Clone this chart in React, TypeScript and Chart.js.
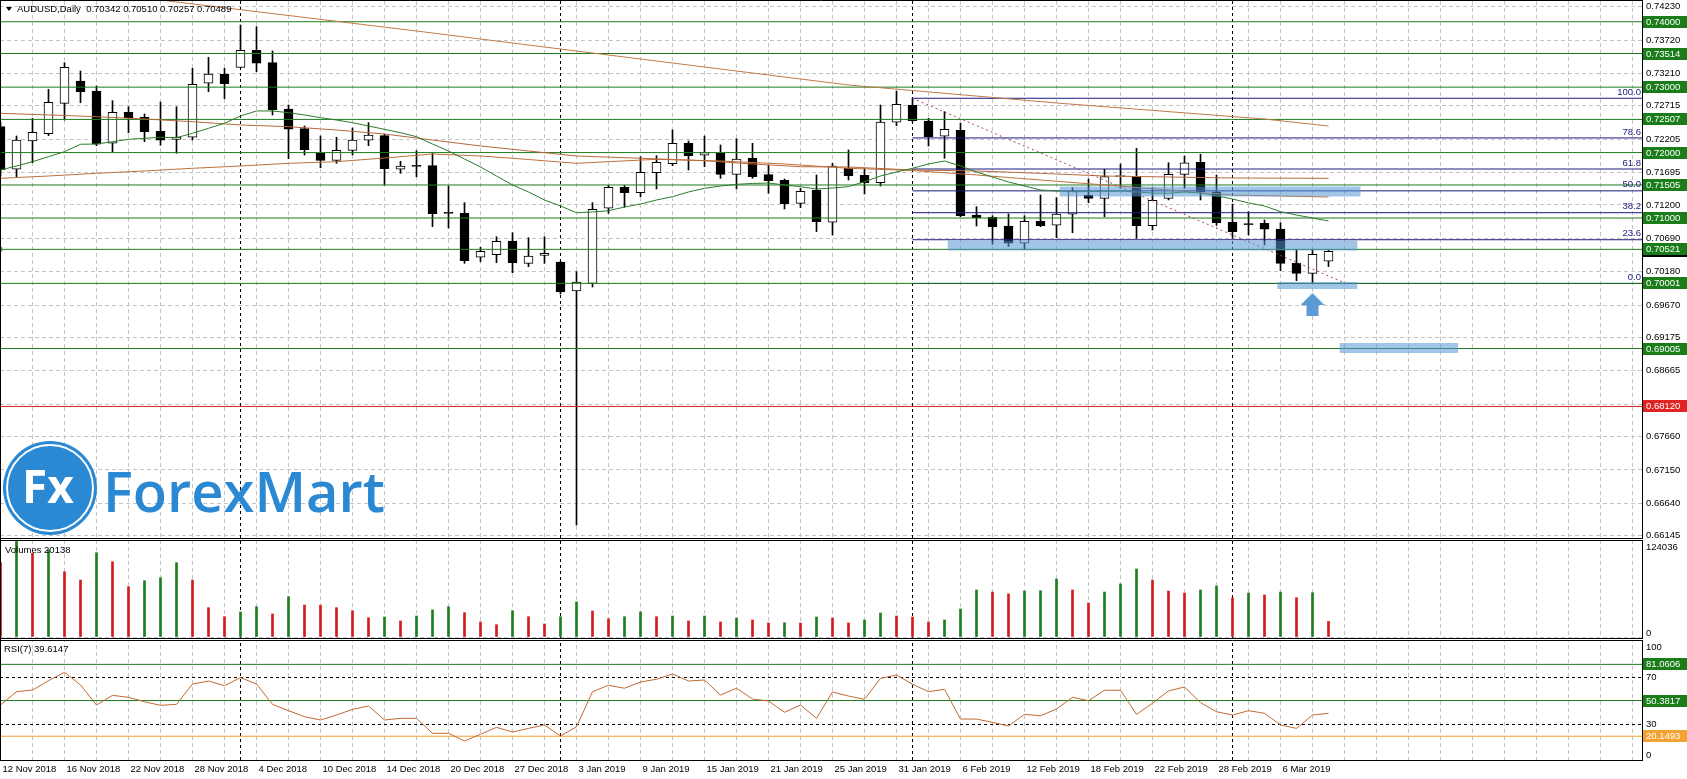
import React, { useEffect, useRef } from 'react';
import { Chart, registerables } from 'chart.js';
import type { Plugin } from 'chart.js';

Chart.register(...registerables);

// ---- data ----
const dates = ('12 Nov 2018,13 Nov 2018,14 Nov 2018,15 Nov 2018,16 Nov 2018,19 Nov 2018,20 Nov 2018,21 Nov 2018,22 Nov 2018,23 Nov 2018,'
  + '26 Nov 2018,27 Nov 2018,28 Nov 2018,29 Nov 2018,30 Nov 2018,3 Dec 2018,4 Dec 2018,5 Dec 2018,6 Dec 2018,7 Dec 2018,'
  + '10 Dec 2018,11 Dec 2018,12 Dec 2018,13 Dec 2018,14 Dec 2018,17 Dec 2018,18 Dec 2018,19 Dec 2018,20 Dec 2018,21 Dec 2018,'
  + '24 Dec 2018,26 Dec 2018,27 Dec 2018,28 Dec 2018,31 Dec 2018,2 Jan 2019,3 Jan 2019,4 Jan 2019,7 Jan 2019,8 Jan 2019,'
  + '9 Jan 2019,10 Jan 2019,11 Jan 2019,14 Jan 2019,15 Jan 2019,16 Jan 2019,17 Jan 2019,18 Jan 2019,21 Jan 2019,22 Jan 2019,'
  + '23 Jan 2019,24 Jan 2019,25 Jan 2019,28 Jan 2019,29 Jan 2019,30 Jan 2019,31 Jan 2019,1 Feb 2019,4 Feb 2019,5 Feb 2019,'
  + '6 Feb 2019,7 Feb 2019,8 Feb 2019,11 Feb 2019,12 Feb 2019,13 Feb 2019,14 Feb 2019,15 Feb 2019,18 Feb 2019,19 Feb 2019,'
  + '20 Feb 2019,21 Feb 2019,22 Feb 2019,25 Feb 2019,26 Feb 2019,27 Feb 2019,28 Feb 2019,1 Mar 2019,4 Mar 2019,5 Mar 2019,'
  + '6 Mar 2019,7 Mar 2019,8 Mar 2019,11 Mar 2019').split(',');

const opens = [
  0.72396, 0.71745, 0.72177, 0.72289, 0.72753, 0.73094, 0.72941, 0.72142, 0.72616, 0.72539,
  0.72325, 0.72203, 0.72234, 0.73059, 0.73201, 0.73303, 0.73563, 0.73374, 0.72666, 0.72365,
  0.71994, 0.71882, 0.72035, 0.72188, 0.72258, 0.71745, 0.71800, 0.71800, 0.71080, 0.71072,
  0.70400, 0.70439, 0.70649, 0.70308, 0.70430, 0.70328, 0.69884, 0.70000, 0.71149, 0.71470,
  0.71387, 0.71693, 0.71830, 0.72142, 0.71959, 0.71994, 0.71668, 0.71913, 0.71662, 0.71576,
  0.71225, 0.71428, 0.70935, 0.71765, 0.71653, 0.71540, 0.72463, 0.72723, 0.72483, 0.72249,
  0.72341, 0.71046, 0.71011, 0.70878, 0.70614, 0.70950, 0.70889, 0.71057, 0.71347, 0.71301,
  0.71632, 0.71632, 0.70883, 0.71301, 0.71668, 0.71852, 0.71402, 0.70935, 0.70910, 0.70919,
  0.70832, 0.70308, 0.70155, 0.70342,
];
const highs = [
  0.72467, 0.72254, 0.72524, 0.72967, 0.73374, 0.73247, 0.73018, 0.72793, 0.72701, 0.72590,
  0.72773, 0.72701, 0.73288, 0.73456, 0.73288, 0.73950, 0.73924, 0.73553, 0.72727, 0.72406,
  0.72254, 0.72234, 0.72376, 0.72457, 0.72284, 0.71867, 0.72029, 0.71989, 0.71489, 0.71234,
  0.70552, 0.70714, 0.70776, 0.70699, 0.70714, 0.70340, 0.70179, 0.71234, 0.71500, 0.71500,
  0.71937, 0.71953, 0.72345, 0.72177, 0.72254, 0.72116, 0.72212, 0.72142, 0.71806, 0.71596,
  0.71454, 0.71658, 0.71836, 0.72040, 0.71760, 0.72727, 0.72941, 0.72830, 0.72524, 0.72625,
  0.72448, 0.71173, 0.71036, 0.71062, 0.71036, 0.71352, 0.71311, 0.71464, 0.71596, 0.71745,
  0.71826, 0.72066, 0.71464, 0.71845, 0.71948, 0.71974, 0.71658, 0.71214, 0.71097, 0.70970,
  0.70928, 0.70522, 0.70522, 0.70510,
];
const lows = [
  0.71642, 0.71631, 0.71845, 0.72260, 0.72498, 0.72762, 0.72105, 0.72014, 0.72304, 0.72166,
  0.72111, 0.71989, 0.72192, 0.72931, 0.72824, 0.73297, 0.73236, 0.72574, 0.71907, 0.71963,
  0.71769, 0.71836, 0.71963, 0.72105, 0.71505, 0.71683, 0.71631, 0.70868, 0.70847, 0.70308,
  0.70332, 0.70317, 0.70164, 0.70256, 0.70308, 0.69839, 0.66308, 0.69946, 0.71072, 0.71164,
  0.71326, 0.71444, 0.71800, 0.71734, 0.71784, 0.71607, 0.71444, 0.71607, 0.71378, 0.71138,
  0.71158, 0.70793, 0.70741, 0.71581, 0.71367, 0.71489, 0.72411, 0.72467, 0.72101, 0.71913,
  0.71020, 0.70878, 0.70598, 0.70565, 0.70531, 0.70867, 0.70699, 0.70776, 0.71234, 0.71020,
  0.71454, 0.70690, 0.70817, 0.71276, 0.71454, 0.71276, 0.70888, 0.70690, 0.70741, 0.70588,
  0.70195, 0.70042, 0.70003, 0.70257,
];
const closes = [
  0.71734, 0.72192, 0.72310, 0.72769, 0.73303, 0.72931, 0.72127, 0.72616, 0.72533, 0.72319,
  0.72188, 0.72238, 0.73044, 0.73201, 0.73053, 0.73563, 0.73365, 0.72655, 0.72356, 0.72044,
  0.71882, 0.72035, 0.72192, 0.72269, 0.71754, 0.71795, 0.71790, 0.71066, 0.71070, 0.70348,
  0.70491, 0.70644, 0.70317, 0.70420, 0.70461, 0.69869, 0.70022, 0.71133, 0.71470, 0.71387,
  0.71699, 0.71852, 0.72142, 0.71953, 0.71999, 0.71668, 0.71902, 0.71631, 0.71570, 0.71219,
  0.71408, 0.70944, 0.71795, 0.71647, 0.71540, 0.72467, 0.72738, 0.72487, 0.72243, 0.72356,
  0.71036, 0.71001, 0.70867, 0.70614, 0.70950, 0.70883, 0.71062, 0.71413, 0.71301, 0.71632,
  0.71640, 0.70883, 0.71271, 0.71668, 0.71845, 0.71402, 0.70928, 0.70791, 0.70900, 0.70828,
  0.70308, 0.70155, 0.70446, 0.70489,
];

const volumes = [
  96000, 124036, 108100, 112400, 84400, 73600, 108900, 97300, 65000, 72700,
  76600, 96000, 73600, 37900, 26200, 32300, 39100, 29700, 52100, 41300,
  41000, 37900, 34000, 24900, 25800, 20700, 27100, 34900, 39100, 31400,
  19400, 15900, 34000, 26200, 16800, 26200, 45200, 33600, 23600, 26200,
  32300, 26200, 27100, 20700, 27100, 19400, 24500, 22000, 18100, 18400,
  18000, 25800, 24500, 18100, 22000, 31000, 27100, 25800, 19400, 22000,
  36200, 60700, 58100, 55600, 59400, 59800, 74900, 60700, 43900, 58100,
  68500, 87900, 73600, 59400, 56800, 60700, 65900, 50400, 56800, 54300,
  58100, 50800, 57200, 20138,
];
// g = volume up, r = volume down
const volumeDir = ('rgrgrrgrrg' + 'ggrrrggrgr' + 'rrrrgrgggr' + 'rrgrrggrrg' + 'grgrgrgrrg'
  + 'rgrrggrrrg' + 'ggrrgggrrg' + 'ggrrrggrgr' + 'grgr').split('');

const rsi = [
  46.6, 57.9, 59.3, 67.2, 74.3, 63.6, 46.6, 54.8, 53.1, 49.4,
  46.3, 47.2, 64.4, 66.9, 63.0, 69.8, 64.4, 47.2, 41.8, 36.7,
  33.9, 38.1, 42.9, 45.8, 33.9, 35.3, 35.3, 22.6, 22.6, 16.1,
  21.8, 27.7, 23.7, 26.8, 29.7, 20.3, 28.2, 57.9, 63.3, 60.8,
  66.1, 68.4, 72.9, 66.9, 67.8, 55.1, 60.8, 51.7, 50.0, 40.4,
  46.6, 35.3, 57.6, 54.2, 51.4, 69.2, 72.0, 64.2, 57.9, 59.9,
  34.7, 34.7, 31.9, 28.8, 38.7, 37.5, 43.2, 53.1, 50.3, 59.1,
  59.1, 38.7, 48.1, 58.5, 61.9, 48.6, 40.9, 38.1, 41.8, 39.6,
  29.7, 26.8, 38.1, 39.6147,
];

// moving averages
const maFast = [
  0.71734, 0.71795, 0.71861, 0.71937, 0.72014, 0.72127, 0.72131, 0.72166, 0.72203, 0.72218,
  0.72234, 0.72228, 0.72295, 0.72371, 0.72448, 0.72559, 0.72636, 0.72636, 0.72610, 0.72575,
  0.72533, 0.72498, 0.72457, 0.72406, 0.72356, 0.72304, 0.72243, 0.72131, 0.72024, 0.71902,
  0.71780, 0.71642, 0.71505, 0.71398, 0.71275, 0.71184, 0.71081, 0.71092, 0.71112, 0.71168,
  0.71214, 0.71275, 0.71326, 0.71398, 0.71454, 0.71489, 0.71515, 0.71528, 0.71535, 0.71505,
  0.71479, 0.71444, 0.71459, 0.71479, 0.71555, 0.71642, 0.71703, 0.71760, 0.71826, 0.71871,
  0.71795, 0.71703, 0.71627, 0.71551, 0.71489, 0.71428, 0.71413, 0.71402, 0.71405, 0.71410,
  0.71413, 0.71398, 0.71382, 0.71378, 0.71398, 0.71382, 0.71337, 0.71291, 0.71230, 0.71184,
  0.71097, 0.71046, 0.71000, 0.70955,
];
const maMidBars = [0, 3, 6, 9, 12, 15, 18, 21, 24, 27, 30, 33, 36, 40, 44, 47, 50, 53, 57, 61, 65, 69, 73, 77, 83];
const maMidVals = [0.72600, 0.72575, 0.72549, 0.72513, 0.72472, 0.72422, 0.72396, 0.72345, 0.72284, 0.72192,
  0.72101, 0.72024, 0.71948, 0.71913, 0.71876, 0.71826, 0.71784, 0.71780, 0.71734, 0.71719,
  0.71683, 0.71642, 0.71627, 0.71612, 0.71607];
const maLongBars = [0, 3, 6, 9, 12, 15, 18, 21, 24, 27, 30, 32, 36, 38, 41, 45, 49, 53, 57, 61, 65, 69, 73, 77, 83];
const maLongVals = [0.71607, 0.71642, 0.71683, 0.71719, 0.71760, 0.71795, 0.71836, 0.71861, 0.71917, 0.71978,
  0.71948, 0.71913, 0.71836, 0.71861, 0.71897, 0.71871, 0.71826, 0.71760, 0.71726, 0.71658,
  0.71581, 0.71505, 0.71428, 0.71352, 0.71321];
const maSlowBars = [0, 10, 26, 40, 53, 66, 79, 83];
const maSlowVals = [0.74622, 0.74332, 0.73858, 0.73430, 0.73033, 0.72758, 0.72513, 0.72406];

const priceTicks = [0.74230, 0.73720, 0.73210, 0.72715, 0.72205, 0.71695, 0.71200, 0.70690, 0.70180,
  0.69670, 0.69175, 0.68665, 0.68155, 0.67660, 0.67150, 0.66640, 0.66145];
const greenLevels = [0.74000, 0.73514, 0.73000, 0.72507, 0.72000, 0.71505, 0.71000, 0.70521, 0.70001, 0.69005];
const redLevel = 0.68120;
const fibNames = ['0.0', '23.6', '38.2', '50.0', '61.8', '78.6', '100.0'];
const fibPrices = [0.70000, 0.70668, 0.71081, 0.71415, 0.71749, 0.72224, 0.72830];
const fibStartBar = 57;
const fibEndBar = 84.1;
const rsiGreenLevels = [81.0606, 50.3817];
const rsiOrangeLevel = 20.1493;
const monthStarts = [15, 35, 57, 77];
const bidPrice = 0.70489;

// hand drawn highlight strokes: from bar, to bar, price
const bandFrom = [59.2, 66.2, 79.8, 83.7];
const bandTo = [84.8, 85.0, 84.8, 91.1];
const bandPrice = [0.70580, 0.71405, 0.69969, 0.69014];
const arrowBar = 82;
const arrowPrice = 0.69671;

// ---- layout / style ----
const X_MIN = -0.03125;
const X_MAX = 102.59375;
const FONT = '"Liberation Sans", Arial, sans-serif';
const GRID = '#c4c4c4';
const LEVEL_GREEN = '#1f7a1f';
const BOX_GREEN = '#1a7d1a';
const NAVY = '#1a1a7e';
const BROWN = '#b8683c';

const hLine = (value: number, axis: string, color: string, from = X_MIN, extra = {}) => ({
  type: 'line' as const,
  yAxisID: axis,
  data: [{ x: from, y: value }, { x: X_MAX, y: value }],
  borderColor: color,
  borderWidth: 1,
  pointRadius: 0,
  order: 3,
  ...extra,
});

function makeArrow(): HTMLCanvasElement {
  const c = document.createElement('canvas');
  c.width = 24;
  c.height = 24;
  const g = c.getContext('2d')!;
  g.fillStyle = '#5b9bd5';
  g.beginPath();
  g.moveTo(12, 0);
  g.lineTo(24, 12);
  g.lineTo(18, 12);
  g.lineTo(18, 23);
  g.lineTo(6, 23);
  g.lineTo(6, 12);
  g.lineTo(0, 12);
  g.closePath();
  g.fill();
  return c;
}

const mt4Plugin: Plugin = {
  id: 'mt4',
  beforeDatasetsDraw(chart) {
    const { ctx, chartArea: a, scales } = chart;
    ctx.save();
    ctx.strokeStyle = '#000';
    ctx.lineWidth = 1;
    ctx.setLineDash([3, 3]);
    monthStarts.forEach((i) => {
      const x = Math.floor(scales.x.getPixelForValue(i)) + 0.5;
      ctx.beginPath();
      ctx.moveTo(x, a.top);
      ctx.lineTo(x, a.bottom);
      ctx.stroke();
    });
    ctx.restore();
  },
  afterDatasetsDraw(chart) {
    const { ctx, chartArea: a, scales } = chart;
    const y = scales.y;
    ctx.save();
    // watermark logo
    const cx = a.left + 50;
    const cy = y.bottom - 51;
    ctx.fillStyle = '#2b88d2';
    ctx.beginPath();
    ctx.arc(cx, cy, 47, 0, Math.PI * 2);
    ctx.fill();
    ctx.strokeStyle = '#fff';
    ctx.lineWidth = 2;
    ctx.beginPath();
    ctx.arc(cx, cy, 43, 0, Math.PI * 2);
    ctx.stroke();
    ctx.fillStyle = '#fff';
    ctx.font = `bold 46px "Open Sans", sans-serif`;
    ctx.textAlign = 'center';
    ctx.textBaseline = 'middle';
    ctx.fillText('Fx', cx - 2, cy + 2);
    ctx.font = `600 60px "Open Sans", sans-serif`;
    const w = ctx.measureText('ForexMart').width;
    ctx.font = `600 ${(60 * 282) / w}px "Open Sans", sans-serif`;
    ctx.fillStyle = '#2b88d2';
    ctx.textAlign = 'left';
    ctx.textBaseline = 'alphabetic';
    ctx.fillText('ForexMart', a.left + 103, y.bottom - 27);

    // fibo level captions
    ctx.font = `9.5px ${FONT}`;
    ctx.fillStyle = NAVY;
    ctx.textAlign = 'right';
    ctx.textBaseline = 'middle';
    fibPrices.forEach((p, i) => {
      ctx.fillText(fibNames[i], a.right - 1, y.getPixelForValue(p) - 6);
    });
    ctx.restore();
  },
  afterDraw(chart) {
    const { ctx, chartArea: a, scales } = chart;
    const { y, yv, yr } = scales;
    const L = a.left;
    const R = a.right;
    const W = chart.width;
    ctx.save();
    // pane separators
    ctx.fillStyle = '#fff';
    ctx.fillRect(L, y.bottom, R - L + 1, 1);
    ctx.fillRect(L, yv.bottom, R - L + 1, 1);
    ctx.strokeStyle = '#000';
    ctx.lineWidth = 1;
    const hl = (py: number) => {
      ctx.beginPath();
      ctx.moveTo(L, py);
      ctx.lineTo(R + 1, py);
      ctx.stroke();
    };
    hl(a.top - 0.5);
    hl(y.bottom - 0.5);
    hl(y.bottom + 1.5);
    hl(yv.bottom - 0.5);
    hl(yv.bottom + 1.5);
    ctx.beginPath();
    ctx.moveTo(L + 0.5, 0);
    ctx.lineTo(L + 0.5, a.bottom);
    ctx.stroke();

    ctx.font = `9.5px ${FONT}`;
    ctx.textBaseline = 'middle';
    ctx.textAlign = 'left';
    const box = (scale: any, value: number, text: string, bg: string) => {
      const py = Math.round(scale.getPixelForValue(value));
      ctx.fillStyle = bg;
      ctx.fillRect(R + 1, py - 6, W - R - 1, 12);
      ctx.fillStyle = '#fff';
      ctx.fillText(text, R + 4, py + 0.5);
    };
    box(y, bidPrice, bidPrice.toFixed(5), '#000');
    greenLevels.forEach((v) => box(y, v, v.toFixed(5), BOX_GREEN));
    box(y, redLevel, redLevel.toFixed(5), '#e02424');
    rsiGreenLevels.forEach((v) => box(yr, v, v.toFixed(4), BOX_GREEN));
    box(yr, rsiOrangeLevel, rsiOrangeLevel.toFixed(4), '#f3a232');

    // sub-window axis captions
    ctx.fillStyle = '#000';
    const cap = (scale: any, value: number, text: string, lo: number) => {
      const py = Math.min(Math.max(scale.getPixelForValue(value), scale.top + 8), scale.bottom - lo);
      ctx.fillText(text, R + 4, py);
    };
    cap(yv, 124036, '124036', 6);
    cap(yv, 0, '0', 6);
    [100, 70, 30, 0].forEach((v) => cap(yr, v, String(v), 5));

    // window captions
    const last = dates.length - 1;
    ctx.beginPath();
    ctx.moveTo(L + 6, a.top + 6);
    ctx.lineTo(L + 12, a.top + 6);
    ctx.lineTo(L + 9, a.top + 10);
    ctx.closePath();
    ctx.fill();
    ctx.fillText(`AUDUSD,Daily  ${opens[last].toFixed(5)} ${highs[last].toFixed(5)} ${lows[last].toFixed(5)} ${closes[last].toFixed(5)}`, L + 17, a.top + 8);
    ctx.fillText(`Volumes ${volumes[last]}`, L + 5, yv.top + 11);
    ctx.fillText(`RSI(7) ${rsi[last].toFixed(4)}`, L + 4, yr.top + 10);
    ctx.restore();
  },
};

export default function App() {
  const canvasRef = useRef<HTMLCanvasElement>(null);

  useEffect(() => {
    document.body.style.margin = '0';
    if (!canvasRef.current) return () => { /* nothing */ };
    const idx = dates.map((_, i) => i);
    const arrow = makeArrow();
    // fixed axis sizes, no label padding pushing the plot area around
    const fitY = (s: any) => {
      s.width = 45;
      s.paddingTop = 0;
      s.paddingBottom = 0;
    };
    const tickFont = { family: FONT, size: 9.5 };

    const chart = new Chart(canvasRef.current, {
      type: 'bar',
      data: {
        datasets: [
          // candles
          {
            type: 'bar',
            data: idx.map((i) => ({ x: i, y: [opens[i], closes[i]] })),
            backgroundColor: idx.map((i) => (closes[i] < opens[i] ? '#000' : '#fff')),
            borderColor: '#000',
            borderWidth: 1,
            borderSkipped: false,
            barThickness: 9,
            minBarLength: 1,
            grouped: false,
            yAxisID: 'y',
            order: 10,
          },
          {
            type: 'bar',
            data: idx.map((i) => ({ x: i, y: [lows[i], highs[i]] })),
            backgroundColor: '#000',
            barThickness: 1,
            grouped: false,
            yAxisID: 'y',
            order: 11,
          },
          // moving averages
          {
            type: 'line', yAxisID: 'y', order: 2,
            data: idx.map((i) => ({ x: i, y: maFast[i] })),
            borderColor: '#2a7d2a', borderWidth: 1, pointRadius: 0,
          },
          {
            type: 'line', yAxisID: 'y', order: 2,
            data: maMidBars.map((b, i) => ({ x: b, y: maMidVals[i] })),
            borderColor: BROWN, borderWidth: 1, pointRadius: 0,
          },
          {
            type: 'line', yAxisID: 'y', order: 2,
            data: maLongBars.map((b, i) => ({ x: b, y: maLongVals[i] })),
            borderColor: '#c0703e', borderWidth: 1, pointRadius: 0,
          },
          {
            type: 'line', yAxisID: 'y', order: 2,
            data: maSlowBars.map((b, i) => ({ x: b, y: maSlowVals[i] })),
            borderColor: '#c07a48', borderWidth: 1, pointRadius: 0,
          },
          // horizontal levels
          ...greenLevels.map((v) => hLine(v, 'y', LEVEL_GREEN, X_MIN, v === 0.70521 ? {
            pointRadius: [2.5, 0], pointStyle: 'rect', pointBackgroundColor: '#fff', pointBorderColor: LEVEL_GREEN,
          } : {})),
          hLine(redLevel, 'y', '#d42020'),
          ...fibPrices.map((v) => hLine(v, 'y', NAVY, fibStartBar)),
          {
            type: 'line', yAxisID: 'y', order: 1,
            data: [{ x: fibStartBar, y: fibPrices[6] }, { x: fibEndBar, y: fibPrices[0] }],
            borderColor: '#a8405e', borderWidth: 1, borderDash: [2, 3], pointRadius: 0,
          },
          // highlight strokes
          ...bandPrice.map((p, i) => ({
            type: 'line' as const, yAxisID: 'y', order: 0,
            data: [{ x: bandFrom[i], y: p }, { x: bandTo[i], y: p }],
            borderColor: 'rgba(84,150,212,0.55)', borderWidth: i === 2 ? 7 : 10, pointRadius: 0,
          })),
          {
            type: 'line', yAxisID: 'y', order: 0, showLine: false,
            data: [{ x: arrowBar, y: arrowPrice }],
            pointStyle: arrow, pointRadius: 12,
          },
          // volumes
          {
            type: 'bar', yAxisID: 'yv',
            data: idx.map((i) => ({ x: i, y: volumes[i] })),
            backgroundColor: volumeDir.map((d) => (d === 'g' ? '#1e7e1e' : '#d41e1e')),
            barThickness: 2,
            grouped: false,
          },
          // RSI
          {
            type: 'line', yAxisID: 'yr',
            data: idx.map((i) => ({ x: i, y: rsi[i] })),
            borderColor: '#c26a30', borderWidth: 1, pointRadius: 0,
          },
          ...rsiGreenLevels.map((v) => hLine(v, 'yr', LEVEL_GREEN)),
          hLine(rsiOrangeLevel, 'yr', '#f0a030'),
        ] as any,
      },
      options: {
        animation: false,
        responsive: true,
        maintainAspectRatio: false,
        devicePixelRatio: 1,
        events: [],
        layout: { autoPadding: false, padding: { top: 1, left: 0, right: 0, bottom: 0 } },
        plugins: { legend: { display: false }, tooltip: { enabled: false } },
        scales: {
          x: {
            type: 'linear',
            offset: false,
            min: X_MIN,
            max: X_MAX,
            afterBuildTicks: (s: any) => {
              s.ticks = Array.from({ length: 52 }, (_, k) => ({ value: k * 2 }));
            },
            afterFit: (s: any) => {
              s.height = 19;
              s.paddingLeft = 0;
              s.paddingRight = 0;
            },
            ticks: {
              autoSkip: false,
              maxRotation: 0,
              minRotation: 0,
              align: 'start',
              padding: 4,
              labelOffset: 2,
              color: '#000',
              font: tickFont,
              callback: (v: any) => (v % 4 === 0 && v < dates.length ? dates[v] : ''),
            },
            grid: { color: GRID, drawTicks: false, offset: false },
            border: { color: '#000', dash: [4, 3] },
          },
          y: {
            type: 'linear',
            position: 'right',
            stack: 'panes',
            stackWeight: 538,
            min: 0.660944,
            max: 0.743167,
            afterBuildTicks: (s: any) => { s.ticks = priceTicks.map((v) => ({ value: v })); },
            afterFit: fitY,
            ticks: {
              autoSkip: false,
              padding: 4,
              color: '#000',
              font: tickFont,
              callback: (v: any) => Number(v).toFixed(5),
            },
            grid: { color: GRID, drawTicks: false },
            border: { color: '#000', dash: [4, 3] },
          },
          yv: {
            type: 'linear',
            position: 'right',
            stack: 'panes',
            stackWeight: 100,
            min: -2584,
            max: 126616,
            afterBuildTicks: (s: any) => { s.ticks = [{ value: 0 }, { value: 124036 }]; },
            afterFit: fitY,
            ticks: { display: false },
            grid: { color: GRID, drawTicks: false },
            border: { color: '#000', dash: [4, 3] },
          },
          yr: {
            type: 'linear',
            position: 'right',
            stack: 'panes',
            stackWeight: 121,
            min: 0,
            max: 102.54,
            afterBuildTicks: (s: any) => { s.ticks = [0, 30, 70, 100].map((v) => ({ value: v })); },
            afterFit: fitY,
            ticks: { display: false },
            grid: {
              drawTicks: false,
              color: (c: any) => (c.tick && (c.tick.value === 30 || c.tick.value === 70) ? '#000' : 'rgba(0,0,0,0)'),
            },
            border: { color: '#000', dash: [3, 3] },
          },
        },
      } as any,
      plugins: [mt4Plugin],
    });

    return () => {
      chart.destroy();
    };
  }, []);

  return (
    <div style={{ position: 'relative', width: 1687, height: 779, background: '#fff' }}>
      <canvas ref={canvasRef} />
    </div>
  );
}
